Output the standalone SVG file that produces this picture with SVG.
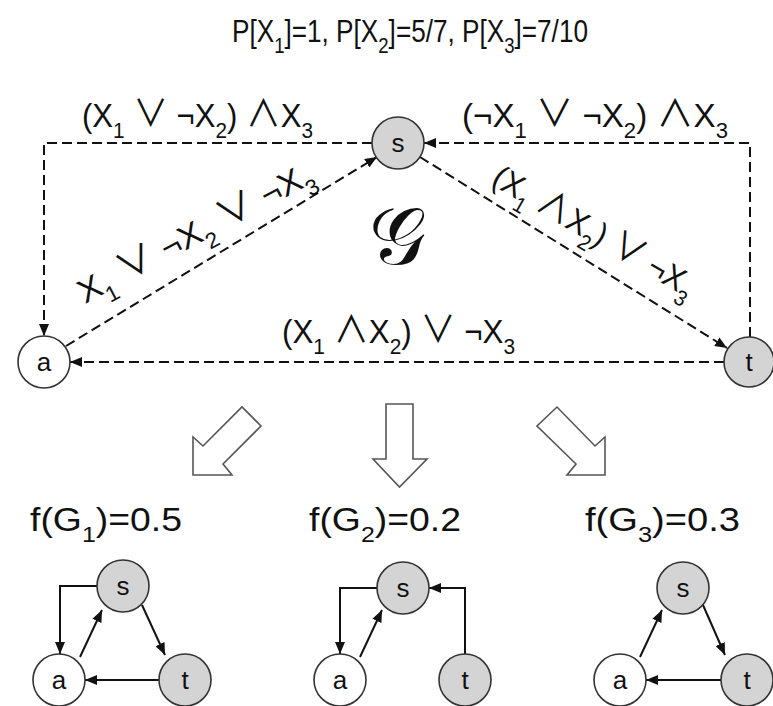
<svg xmlns="http://www.w3.org/2000/svg" width="773" height="706" viewBox="0 0 773 706">
<style>
text{font-family:"Liberation Sans","DejaVu Sans",Arial,sans-serif;fill:#111}
.lbl{font-size:33px}
.ttl{font-size:31px}
.sub{font-size:22px}
.op{font-family:"Noto Sans CJK JP","DejaVu Sans",sans-serif;font-size:37px}
.nl{font-size:26px;text-anchor:middle;dominant-baseline:central}
.node{stroke:#333;stroke-width:1.6}
.g{fill:#d4d4d4}
.w{fill:#fff}
.dash{fill:none;stroke:#111;stroke-width:2;stroke-dasharray:10 5}
.sol{fill:none;stroke:#111;stroke-width:2}
.blk{fill:#fff;stroke:#555;stroke-width:1.6;stroke-linejoin:miter}
</style>
<defs>
<marker id="ah" markerWidth="12" markerHeight="10" refX="12" refY="5" orient="auto" markerUnits="userSpaceOnUse"><path d="M0,0 L12,5 L0,10 z" fill="#111"/></marker>
<marker id="ah2" markerWidth="12" markerHeight="10" refX="12" refY="5" orient="auto" markerUnits="userSpaceOnUse"><path d="M0,0 L12,5 L0,10 z" fill="#111"/></marker>
</defs>

<text class="ttl" x="232" y="42" textLength="356" lengthAdjust="spacingAndGlyphs">P[X<tspan class="sub" dy="11">1</tspan><tspan dy="-11">]=1, P[X</tspan><tspan class="sub" dy="11">2</tspan><tspan dy="-11">]=5/7, P[X</tspan><tspan class="sub" dy="11">3</tspan><tspan dy="-11">]=7/10</tspan></text>

<g id="connectors">
<path class="dash" d="M372,143 H44 V336" marker-end="url(#ah)"/>
<path class="dash" d="M750,337 V143 H424" marker-end="url(#ah)"/>
<path class="dash" d="M724,362 H70" marker-end="url(#ah)"/>
<path class="dash" d="M66,346 L377,157" marker-end="url(#ah)"/>
<path class="dash" d="M420,157 L727,348" marker-end="url(#ah)"/>
<path class="sol" d="M97,586 H60 V654" marker-end="url(#ah2)"/>
<path class="sol" d="M80,657 L102,610" marker-end="url(#ah2)"/>
<path class="sol" d="M142,605 L165,655" marker-end="url(#ah2)"/>
<path class="sol" d="M159,680 H85" marker-end="url(#ah2)"/>
<path class="sol" d="M377,588 H340 V654" marker-end="url(#ah2)"/>
<path class="sol" d="M360,657 L382,610" marker-end="url(#ah2)"/>
<path class="sol" d="M465,654 V588 H429" marker-end="url(#ah2)"/>
<path class="sol" d="M640,657 L662,610" marker-end="url(#ah2)"/>
<path class="sol" d="M703,605 L725,655" marker-end="url(#ah2)"/>
<path class="sol" d="M721,680 H646" marker-end="url(#ah2)"/>
</g>

<g id="labels">
<text class="lbl" x="82" y="127" textLength="231" lengthAdjust="spacingAndGlyphs">(X<tspan class="sub" dy="11">1</tspan><tspan dy="-11"> </tspan><tspan class="op">∨</tspan> ¬X<tspan class="sub" dy="11">2</tspan><tspan dy="-11">) </tspan><tspan class="op">∧</tspan>X<tspan class="sub" dy="11">3</tspan></text>
<text class="lbl" x="462" y="127" textLength="266" lengthAdjust="spacingAndGlyphs">(¬X<tspan class="sub" dy="11">1</tspan><tspan dy="-11"> </tspan><tspan class="op">∨</tspan> ¬X<tspan class="sub" dy="11">2</tspan><tspan dy="-11">) </tspan><tspan class="op">∧</tspan>X<tspan class="sub" dy="11">3</tspan></text>
<text class="lbl" x="282" y="343" textLength="233" lengthAdjust="spacingAndGlyphs">(X<tspan class="sub" dy="11">1</tspan><tspan dy="-11"> </tspan><tspan class="op">∧</tspan>X<tspan class="sub" dy="11">2</tspan><tspan dy="-11">) </tspan><tspan class="op">∨</tspan> ¬X<tspan class="sub" dy="11">3</tspan></text>
<text class="lbl" transform="translate(85,304) rotate(-28)" x="0" y="0" textLength="262" lengthAdjust="spacingAndGlyphs">X<tspan class="sub" dy="11">1</tspan><tspan dy="-11"> </tspan><tspan class="op">∨</tspan> ¬X<tspan class="sub" dy="11">2</tspan><tspan dy="-11"> </tspan><tspan class="op">∨</tspan> ¬X<tspan class="sub" dy="11">3</tspan></text>
<text class="lbl" transform="translate(490,184) rotate(30)" x="0" y="0" textLength="228" lengthAdjust="spacingAndGlyphs">(X<tspan class="sub" dy="11">1</tspan><tspan dy="-11"> </tspan><tspan class="op">∧</tspan>X<tspan class="sub" dy="11">2</tspan><tspan dy="-11">) </tspan><tspan class="op">∨</tspan> ¬X<tspan class="sub" dy="11">3</tspan></text>
<text x="397" y="264" text-anchor="middle" style="font-family:'DejaVu Serif','DejaVu Sans','Noto Sans',serif;font-size:80px">𝒢</text>
</g>

<g id="node-s"><circle class="node g" cx="398" cy="143" r="26"/><text class="nl" x="398" y="143">s</text></g>
<g id="node-a"><circle class="node w" cx="44" cy="362" r="26"/><text class="nl" x="44" y="362">a</text></g>
<g id="node-t"><circle class="node g" cx="749" cy="362" r="25"/><text class="nl" x="749" y="362">t</text></g>

<g id="block-arrows">
<polygon class="blk" points="193,475 193,437 203,446 242,407 261,426 223,464 232,475"/>
<polygon class="blk" points="386,404 413,404 413,459 427,459 399.5,487 373,459 386,459"/>
<polygon class="blk" points="605,475 605,437 595,446 557,407 537,426 576,464 567,475"/>
</g>

<g id="results">
<text class="lbl" x="30" y="531" textLength="152" lengthAdjust="spacingAndGlyphs">f(G<tspan class="sub" dy="11">1</tspan><tspan dy="-11">)=0.5</tspan></text>
<text class="lbl" x="309" y="531" textLength="152" lengthAdjust="spacingAndGlyphs">f(G<tspan class="sub" dy="11">2</tspan><tspan dy="-11">)=0.2</tspan></text>
<text class="lbl" x="585" y="531" textLength="155" lengthAdjust="spacingAndGlyphs">f(G<tspan class="sub" dy="11">3</tspan><tspan dy="-11">)=0.3</tspan></text>
</g>

<g id="g1-s"><circle class="node g" cx="123" cy="586" r="26"/><text class="nl" x="123" y="586">s</text></g>
<g id="g1-a"><circle class="node w" cx="59" cy="680" r="26"/><text class="nl" x="59" y="680">a</text></g>
<g id="g1-t"><circle class="node g" cx="185" cy="680" r="26"/><text class="nl" x="185" y="680">t</text></g>
<g id="g2-s"><circle class="node g" cx="403" cy="588" r="26"/><text class="nl" x="403" y="588">s</text></g>
<g id="g2-a"><circle class="node w" cx="340" cy="680" r="26"/><text class="nl" x="340" y="680">a</text></g>
<g id="g2-t"><circle class="node g" cx="465" cy="680" r="26"/><text class="nl" x="465" y="680">t</text></g>
<g id="g3-s"><circle class="node g" cx="683" cy="588" r="26"/><text class="nl" x="683" y="588">s</text></g>
<g id="g3-a"><circle class="node w" cx="620" cy="680" r="26"/><text class="nl" x="620" y="680">a</text></g>
<g id="g3-t"><circle class="node g" cx="747" cy="680" r="26"/><text class="nl" x="747" y="680">t</text></g>
</svg>
